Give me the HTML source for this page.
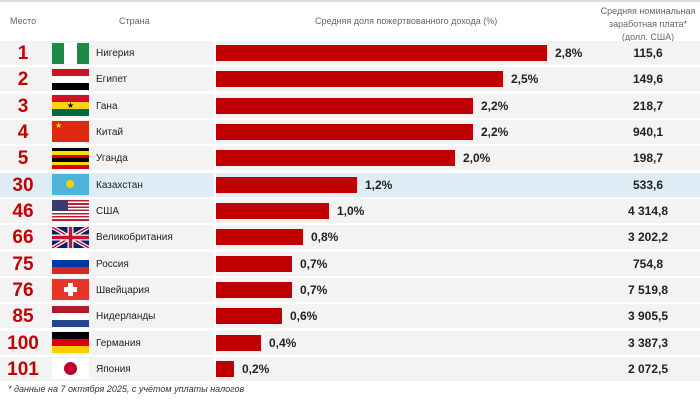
<!DOCTYPE html>
<html><head><meta charset="utf-8"><style>
body{margin:0;width:700px;height:401px;background:#fff;position:relative;overflow:hidden;font-family:"Liberation Sans",sans-serif}
.a{position:absolute}
.band{position:absolute;left:0;width:700px;height:24px;background:#f3f3f3}
.rk{position:absolute;left:0;width:46px;text-align:center;color:#c00000;font-weight:bold;font-size:19px;line-height:25px}
.cn{position:absolute;left:96px;font-size:10px;color:#222;line-height:25px}
.bar{position:absolute;left:216px;height:16px;background:#c00000}
.pv{position:absolute;font-size:12px;font-weight:bold;color:#222;line-height:25px}
.sv{position:absolute;left:598px;width:100px;text-align:center;font-size:12px;font-weight:bold;color:#222;line-height:25px}
.fl{position:absolute;left:52px;width:37px;height:21px;overflow:hidden}
.h{position:absolute;font-size:9px;color:#666}
</style></head><body>
<div class="a" style="left:0;top:0;width:700px;height:2px;background:#ddd"></div>
<div class="h" style="left:10px;top:16px">Место</div>
<div class="h" style="left:119px;top:16px">Страна</div>
<div class="h" style="left:315px;top:16px">Средняя доля пожертвованного дохода (%)</div>
<div class="h" style="left:598px;top:5px;width:100px;text-align:center;line-height:13px">Средняя номинальная заработная плата*<br>(долл. США)</div>
<div id="rows"></div>
<div class="a" style="left:214px;top:40px;width:2px;height:342px;background:#fff"></div>
<div class="a" style="left:8px;top:384px;font-size:9px;font-style:italic;color:#333">* данные на 7 октября 2025, с учётом уплаты налогов</div>
<script>
var d=[["1","Нигерия",547,"2,8%","115,6"],["2","Египет",503,"2,5%","149,6"],["3","Гана",473,"2,2%","218,7"],["4","Китай",473,"2,2%","940,1"],["5","Уганда",455,"2,0%","198,7"],["30","Казахстан",357,"1,2%","533,6"],["46","США",329,"1,0%","4 314,8"],["66","Великобритания",303,"0,8%","3 202,2"],["75","Россия",292,"0,7%","754,8"],["76","Швейцария",292,"0,7%","7 519,8"],["85","Нидерланды",282,"0,6%","3 905,5"],["100","Германия",261,"0,4%","3 387,3"],["101","Япония",234,"0,2%","2 072,5"]];
var f=[
'<div style="display:flex;height:100%"><div style="flex:1;background:#1a8a45"></div><div style="flex:1;background:#fff"></div><div style="flex:1;background:#1a8a45"></div></div>',
'<div style="height:7px;background:#ce1126"></div><div style="height:7px;background:#fff"></div><div style="height:7px;background:#000"></div>',
'<div style="height:7px;background:#ce1126"></div><div style="height:7px;background:#fcd116;text-align:center;font-size:8px;line-height:7px">★</div><div style="height:7px;background:#006b3f"></div>',
'<div style="height:21px;background:#de2910;color:#ffde00;font-size:8px;padding-left:3px">★</div>',
'<div style="height:3.5px;background:#000"></div><div style="height:3.5px;background:#fcdc04"></div><div style="height:3.5px;background:#d90000"></div><div style="height:3.5px;background:#000"></div><div style="height:3.5px;background:#fcdc04"></div><div style="height:3.5px;background:#d90000"></div>',
'<div style="height:21px;background:#4fb3d9;position:relative"><div style="position:absolute;left:14px;top:6px;width:8px;height:8px;border-radius:50%;background:#f5d300"></div></div>',
'<div style="height:21px;background:repeating-linear-gradient(#b22234 0 1.6px,#fff 1.6px 3.2px);position:relative"><div style="position:absolute;left:0;top:0;width:16px;height:11px;background:#3c3b6e"></div></div>',
'<svg width="37" height="21" viewBox="0 0 37 21"><rect width="37" height="21" fill="#012169"/><path d="M0 0L37 21M37 0L0 21" stroke="#fff" stroke-width="4"/><path d="M0 0L37 21M37 0L0 21" stroke="#c8102e" stroke-width="1.5"/><path d="M18.5 0V21M0 10.5H37" stroke="#fff" stroke-width="6"/><path d="M18.5 0V21M0 10.5H37" stroke="#c8102e" stroke-width="3.5"/></svg>',
'<div style="height:7px;background:#fff"></div><div style="height:7px;background:#0039a6"></div><div style="height:7px;background:#d52b1e"></div>',
'<div style="height:21px;background:#e8352a;position:relative"><div style="position:absolute;left:16px;top:4px;width:5px;height:13px;background:#fff"></div><div style="position:absolute;left:12px;top:8px;width:13px;height:5px;background:#fff"></div></div>',
'<div style="height:7px;background:#ae1c28"></div><div style="height:7px;background:#fff"></div><div style="height:7px;background:#21468b"></div>',
'<div style="height:7px;background:#000"></div><div style="height:7px;background:#dd0000"></div><div style="height:7px;background:#ffce00"></div>',
'<div style="height:21px;background:#fff;position:relative"><div style="position:absolute;left:12px;top:4px;width:13px;height:13px;border-radius:50%;background:#bc002d"></div></div>'];
var h="";
for(var i=0;i<13;i++){var c=53+i*26.33,t=c-12;
h+='<div class="band" style="top:'+t+'px;'+(i==5?'background:#deedf5':'')+'"></div>';
h+='<div class="rk" style="top:'+t+'px">'+d[i][0]+'</div>';
h+='<div class="fl" style="top:'+(c-10.5)+'px">'+f[i]+'</div>';
h+='<div class="cn" style="top:'+t+'px">'+d[i][1]+'</div>';
h+='<div class="bar" style="top:'+(c-8)+'px;width:'+(d[i][2]-216)+'px"></div>';
h+='<div class="pv" style="top:'+t+'px;left:'+(d[i][2]+8)+'px">'+d[i][3]+'</div>';
h+='<div class="sv" style="top:'+t+'px">'+d[i][4]+'</div>';}
document.getElementById("rows").innerHTML=h;
</script>
</body></html>
